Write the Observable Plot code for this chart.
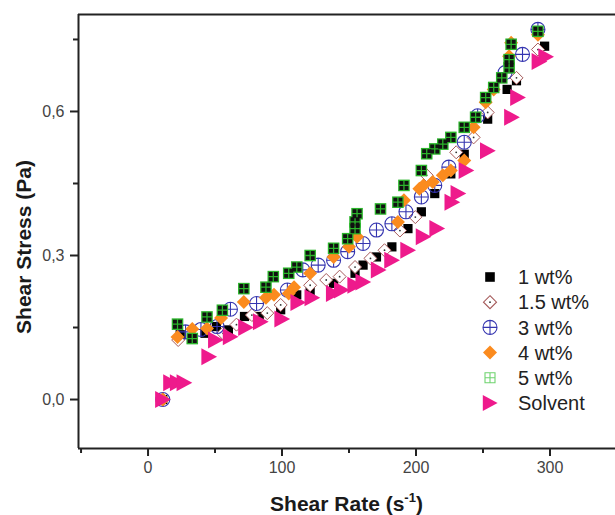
<!DOCTYPE html>
<html><head><meta charset="utf-8">
<script src="https://cdn.jsdelivr.net/npm/d3@7"></script>
<script src="https://cdn.jsdelivr.net/npm/@observablehq/plot@0.6"></script>
<style>body{margin:0;background:#fff} #chart{width:615px;height:515px;overflow:hidden}</style>
</head><body><div id="chart"></div>
<script>
// ---- data ----
const seriesNames = ["1 wt%", "1.5 wt%", "3 wt%", "4 wt%", "5 wt%", "Solvent"];

const rate1 = [11, 24, 42.5, 51, 60, 72, 83, 99, 111, 121, 138.5, 154.5, 160.5, 170.5, 182, 194, 204, 214, 226, 236, 253.5, 268, 275, 296];
const stress1 = [0, 0.135, 0.138, 0.152, 0.145, 0.173, 0.173, 0.187, 0.218, 0.225, 0.242, 0.263, 0.28, 0.297, 0.318, 0.356, 0.391, 0.429, 0.47, 0.511, 0.584, 0.646, 0.664, 0.736];

const rate15 = [11, 22.5, 56, 66, 77.5, 89, 99, 121, 133, 143, 154.5, 166, 176.5, 188, 199.5, 208, 230, 243, 253.5, 275, 291];
const stress15 = [0, 0.124, 0.138, 0.156, 0.176, 0.18, 0.197, 0.238, 0.249, 0.256, 0.276, 0.294, 0.311, 0.352, 0.38, 0.467, 0.515, 0.546, 0.598, 0.67, 0.729];

const rate3 = [11, 28, 39.5, 51.5, 61.5, 81, 104, 115.5, 127, 138.5, 149, 160.5, 170.5, 182, 192.5, 204, 214, 224.5, 236, 246, 266.5, 279.5, 291];
const stress3 = [0, 0.141, 0.146, 0.152, 0.188, 0.2, 0.228, 0.27, 0.28, 0.29, 0.308, 0.325, 0.353, 0.366, 0.391, 0.422, 0.446, 0.484, 0.536, 0.591, 0.681, 0.719, 0.771];

const rate4 = [11, 22, 33, 44, 54.5, 71.5, 88, 94, 105, 109, 121, 138.5, 150, 156, 186.5, 191, 202.5, 205.5, 212.5, 220, 226, 236, 243, 252, 258, 269.5, 271, 291];
const stress4 = [0, 0.13, 0.147, 0.148, 0.17, 0.203, 0.212, 0.218, 0.221, 0.234, 0.263, 0.297, 0.318, 0.339, 0.37, 0.415, 0.439, 0.446, 0.453, 0.467, 0.477, 0.498, 0.567, 0.619, 0.646, 0.715, 0.743, 0.76];

const rate5 = [22, 33, 44, 55.5, 71.5, 88, 93.5, 105, 111, 121, 138.5, 149, 154.5, 154.5, 156, 173.5, 186.5, 191, 204, 208, 214, 220, 226, 236, 244.5, 252, 258, 264, 269.5, 269.5, 271, 291];
const stress5 = [0.157, 0.127, 0.172, 0.186, 0.231, 0.234, 0.256, 0.263, 0.276, 0.3, 0.315, 0.335, 0.356, 0.37, 0.387, 0.397, 0.411, 0.446, 0.477, 0.512, 0.522, 0.532, 0.546, 0.567, 0.588, 0.629, 0.65, 0.67, 0.691, 0.708, 0.74, 0.767];

const rateS = [11, 17, 22, 27, 45.5, 50.5, 61.5, 73, 84, 100, 112, 122.5, 138.5, 144.5, 154.5, 160.5, 172, 182, 194, 205.5, 215.7, 227, 231.5, 237.5, 253.5, 271.5, 276, 292, 297];
const stressS = [0, 0.035, 0.035, 0.035, 0.089, 0.124, 0.131, 0.15, 0.162, 0.168, 0.202, 0.212, 0.221, 0.228, 0.238, 0.245, 0.27, 0.29, 0.311, 0.339, 0.356, 0.411, 0.429, 0.477, 0.518, 0.588, 0.629, 0.704, 0.714];

const xMajorTicks = [0, 100, 200, 300];
const xMinorTicks = [-50, 50, 150, 250];
const yMajorTicks = [0, 0.3, 0.6];
const yMinorTicks = [0.15, 0.45, 0.75];
const xDomain = [-51.9, 348.9];
const yDomain = [-0.102, 0.802];

// ---- symbols ----
const R = s => Math.sqrt(s / Math.PI);
const symSquare = {draw(c, s) { const r = R(s); c.rect(-r, -r, 2 * r, 2 * r); }};
const symDiamond = {draw(c, s) { const r = R(s); c.moveTo(0, -r); c.lineTo(r, 0); c.lineTo(0, r); c.lineTo(-r, 0); c.closePath(); }};
const symCircleCross = {draw(c, s) { const r = R(s); c.moveTo(r, 0); c.arc(0, 0, r, 0, 2 * Math.PI); c.moveTo(-r, 0); c.lineTo(r, 0); c.moveTo(0, -r); c.lineTo(0, r); }};
const symTri = {draw(c, s) { const r = R(s); c.moveTo(-0.9 * r, -r); c.lineTo(0.95 * r, 0); c.lineTo(-0.9 * r, r); c.closePath(); }};
const symCells = {draw(c, s) { const r = R(s); const g = r * 0.22, w = (2 * r - 3 * g) / 2;
  for (const a of [-r + g, g / 2]) for (const b of [-r + g, g / 2]) c.rect(a, b, w, w); }};
const symDot = {draw(c, s) { const r = R(s); c.moveTo(r, 0); c.arc(0, 0, r, 0, 2 * Math.PI); }};
const symGrid = {draw(c, s) { const r = R(s); c.rect(-r, -r, 2 * r, 2 * r); c.moveTo(-r, 0); c.lineTo(r, 0); c.moveTo(0, -r); c.lineTo(0, r); }};

const cPink = "#ee1a8c", cOrange = "#fb8b1e", cGreen = "#2bb52b", cBlue = "#3535b0", cBrown = "#a55a5a";
const font = "Liberation Sans, Arial, Helvetica, sans-serif";

const plot = Plot.plot({
  width: 615, height: 515,
  marginLeft: 78, marginRight: 0, marginTop: 14, marginBottom: 67,
  x: {domain: xDomain},
  y: {domain: yDomain},
  style: {fontFamily: font, background: "white", color: "#222", overflow: "visible"},
  marks: [
    Plot.ruleY([yDomain[1]], {stroke: "#222", strokeWidth: 2}),
    Plot.ruleY([yDomain[0]], {stroke: "#222", strokeWidth: 2}),
    Plot.ruleX([xDomain[0]], {stroke: "#222", strokeWidth: 2}),
    Plot.axisX(xMajorTicks, {tickSize: 8, strokeWidth: 2, stroke: "#222", fill: "#444", fontSize: 16, fontFamily: font, tickPadding: 5, tickFormat: d => String(d), label: null}),
    Plot.axisX(xMinorTicks, {tickSize: 5, strokeWidth: 2, stroke: "#222", tickFormat: () => "", label: null}),
    Plot.axisY(yMajorTicks, {tickSize: 8, strokeWidth: 2, stroke: "#222", fill: "#444", fontSize: 16, fontFamily: font, tickPadding: 6, tickFormat: d => d.toFixed(1).replace(".", ","), label: null}),
    Plot.axisY(yMinorTicks, {tickSize: 5, strokeWidth: 2, stroke: "#222", tickFormat: () => "", label: null}),
    // 1 wt%
    Plot.dot(stress1, {x: rate1, y: stress1, symbol: symSquare, r: 4.6, fill: "#000", stroke: "none"}),
    // 1.5 wt%
    Plot.dot(stress15, {x: rate15, y: stress15, symbol: symDiamond, r: 6.5, fill: "white", stroke: cBrown, strokeWidth: 1}),
    Plot.dot(stress15, {x: rate15, y: stress15, symbol: symDot, r: 0.9, fill: "#333", stroke: "none"}),
    // 3 wt%
    Plot.dot(stress3, {x: rate3, y: stress3, symbol: symCircleCross, r: 7, fill: "none", stroke: cBlue, strokeWidth: 1.1}),
    // 4 wt%
    Plot.dot(stress4, {x: rate4, y: stress4, symbol: symDiamond, r: 7, fill: cOrange, stroke: "none"}),
    // 5 wt%
    Plot.dot(stress5, {x: rate5, y: stress5, symbol: symSquare, r: 5.8, fill: cGreen, stroke: "none"}),
    Plot.dot(stress5, {x: rate5, y: stress5, symbol: symCells, r: 5.8, fill: "#111", stroke: "none"}),
    // Solvent
    Plot.dot(stressS, {x: rateS, y: stressS, symbol: symTri, r: 8.5, fill: cPink, stroke: "none"}),
    Plot.text(["Shear Stress (Pa)"], {frameAnchor: "left", textAnchor: "middle", rotate: -90, dx: -54, dy: 15.5, fontSize: 21, fontWeight: "bold", fontFamily: font, fill: "#1a1a1a"})
  ]
});

document.getElementById("chart").appendChild(plot);
const svg = d3.select(plot);

// x-axis title with superscript
const xt = svg.append("text")
  .attr("x", 346.5).attr("y", 511)
  .attr("text-anchor", "middle")
  .attr("font-family", font).attr("font-size", 21).attr("font-weight", "bold").attr("fill", "#1a1a1a");
xt.append("tspan").text("Shear Rate (s");
xt.append("tspan").attr("font-size", 13).attr("dy", -9).text("-1");
xt.append("tspan").attr("dy", 9).text(")");

// legend
const legendItems = [
  {label: seriesNames[0], parts: [{type: symSquare, r: 4.8, fill: "#000", stroke: "none"}]},
  {label: seriesNames[1], parts: [{type: symDiamond, r: 6.5, fill: "white", stroke: cBrown}, {type: symDot, r: 0.9, fill: "#333", stroke: "none"}]},
  {label: seriesNames[2], parts: [{type: symCircleCross, r: 7, fill: "none", stroke: cBlue}]},
  {label: seriesNames[3], parts: [{type: symDiamond, r: 7, fill: cOrange, stroke: "none"}]},
  {label: seriesNames[4], parts: [{type: symGrid, r: 5, fill: "none", stroke: "#6fd46f"}]},
  {label: seriesNames[5], parts: [{type: symTri, r: 8, fill: cPink, stroke: "none"}]}
];
const lg = svg.append("g").attr("font-family", font).attr("font-size", 20).attr("fill", "#222").attr("text-anchor", "start");
legendItems.forEach((it, i) => {
  const cy = 277 + i * 25.2;
  it.parts.forEach(p => {
    lg.append("path")
      .attr("transform", `translate(490,${cy})`)
      .attr("d", d3.symbol(p.type, p.r * p.r * Math.PI)())
      .attr("fill", p.fill).attr("stroke", p.stroke).attr("stroke-width", 1.1);
  });
  lg.append("text").attr("x", 518).attr("y", cy).attr("dy", "0.36em").attr("text-anchor", "start").text(it.label);
});
</script></body></html>
